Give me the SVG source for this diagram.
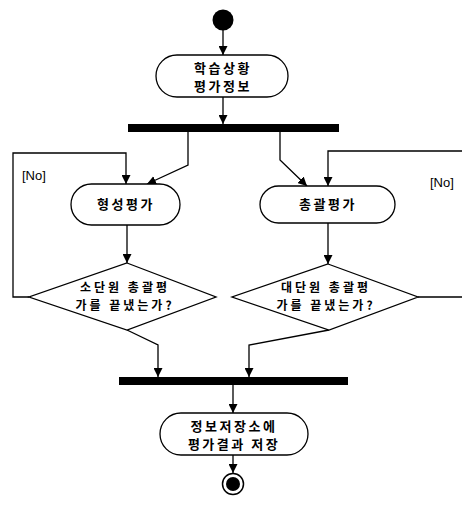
<svg xmlns="http://www.w3.org/2000/svg" width="462" height="506" viewBox="0 0 462 506">
<style>
.n{fill:#fff;stroke:#000;stroke-width:1.3}
.c{fill:none;stroke:#000;stroke-width:1.3}
.t{font-family:"Noto Sans CJK KR","Noto Sans",sans-serif;font-size:13px;font-weight:bold;letter-spacing:2.5px;text-anchor:middle;fill:#000}
.d{font-size:12px;letter-spacing:3px}
.g{font-family:"Liberation Sans","Noto Sans",sans-serif;font-size:13px;fill:#000}
.bar{fill:#000}
</style>
<defs>
<marker id="a" viewBox="0 0 10 10" refX="10" refY="5" markerWidth="9" markerHeight="9" markerUnits="userSpaceOnUse" orient="auto">
<path d="M0,0 L10,5 L0,10 z" fill="#000"/>
</marker>
</defs>
<g id="connectors">
<path class="c" d="M223,30 V55" marker-end="url(#a)"/>
<path class="c" d="M223,97 V124" marker-end="url(#a)"/>
<path class="c" d="M188,132 V165 L147,184" marker-end="url(#a)"/>
<path class="c" d="M280,132 V160 L307,186" marker-end="url(#a)"/>
<path class="c" d="M29,297 H13 V153 H126 V184" marker-end="url(#a)"/>
<path class="c" d="M418,297 H470 V151 H328 V186" marker-end="url(#a)"/>
<path class="c" d="M127,225 V263" marker-end="url(#a)"/>
<path class="c" d="M328,223 V264" marker-end="url(#a)"/>
<path class="c" d="M127,330 L158,345 V377" marker-end="url(#a)"/>
<path class="c" d="M329,330 L249,345 V377" marker-end="url(#a)"/>
<path class="c" d="M233,385 V413" marker-end="url(#a)"/>
<path class="c" d="M233,455 V473" marker-end="url(#a)"/>
<text class="g" x="22" y="180">[No]</text>
<text class="g" x="430" y="187">[No]</text>
</g>
<g id="start"><circle cx="223" cy="20" r="10.5" fill="#000"/></g>
<g id="node1">
<rect class="n" x="156" y="55" width="132" height="42" rx="21"/>
<text class="t" x="223" y="73">학습상황</text>
<text class="t" x="223" y="91">평가정보</text>
</g>
<g id="fork"><rect class="bar" x="128" y="124" width="211" height="8"/></g>
<g id="node2">
<rect class="n" x="71" y="184" width="109" height="41" rx="20.5"/>
<text class="t" x="126" y="209">형성평가</text>
</g>
<g id="node3">
<rect class="n" x="260" y="186" width="135" height="37" rx="18.5"/>
<text class="t" x="328" y="209">총괄평가</text>
</g>
<g id="decision1">
<path class="n" d="M127,263 L216,297 L127,330 L29,297 z"/>
<text class="t d" x="125" y="292">소단원 총괄평</text>
<text class="t d" x="125" y="310">가를 끝냈는가?</text>
</g>
<g id="decision2">
<path class="n" d="M328,264 L418,297 L329,330 L232,297 z"/>
<text class="t d" x="326" y="292">대단원 총괄평</text>
<text class="t d" x="326" y="310">가를 끝냈는가?</text>
</g>
<g id="join"><rect class="bar" x="119" y="377" width="229" height="8"/></g>
<g id="node4">
<rect class="n" x="160" y="413" width="148" height="42" rx="21"/>
<text class="t" x="234" y="431">정보저장소에</text>
<text class="t" x="234" y="449">평가결과 저장</text>
</g>
<g id="end">
<circle cx="233" cy="484" r="10.5" fill="#fff" stroke="#000" stroke-width="1.5"/>
<circle cx="233" cy="484" r="7" fill="#000"/>
</g>
</svg>
